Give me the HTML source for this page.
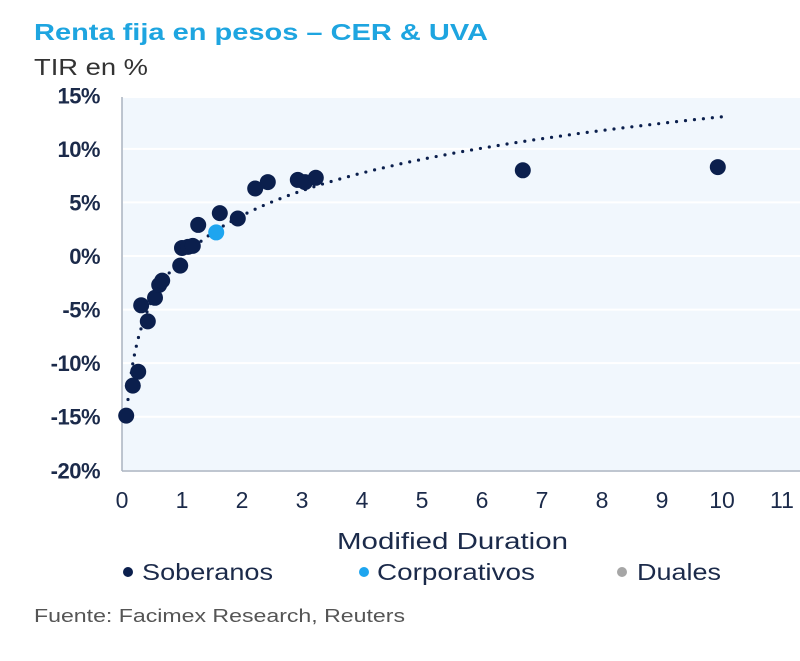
<!DOCTYPE html>
<html><head><meta charset="utf-8"><style>
body{margin:0;background:#fff;width:800px;height:656px;overflow:hidden;font-family:"Liberation Sans",sans-serif}
</style></head><body>
<svg width="800" height="656" viewBox="0 0 800 656">
<text x="34" y="40" font-size="23" font-weight="bold" fill="#1ea5e0" textLength="454" lengthAdjust="spacingAndGlyphs">Renta fija en pesos – CER &amp; UVA</text>
<text x="34" y="75" font-size="23" fill="#333" textLength="114" lengthAdjust="spacingAndGlyphs">TIR en %</text>
<rect x="122" y="98" width="678" height="372" fill="#f1f7fd"/>
<g id="grid"></g>
<line x1="122" y1="97" x2="122" y2="471" stroke="#aab4c0" stroke-width="1.5"/>
<line x1="122" y1="471" x2="800" y2="471" stroke="#aab4c0" stroke-width="1.5"/>
<g id="yt"></g><g id="xt"></g><g id="trend"></g><g id="pts"></g>
<text x="337" y="549" font-size="23" fill="#1b2a4a" textLength="231" lengthAdjust="spacingAndGlyphs">Modified Duration</text>
<g>
<circle cx="128" cy="572" r="5" fill="#0b1f4d"/>
<text x="142" y="580" font-size="23" fill="#1b2a4a" textLength="131" lengthAdjust="spacingAndGlyphs">Soberanos</text>
<circle cx="364" cy="572" r="5" fill="#1ea5ef"/>
<text x="377" y="580" font-size="23" fill="#1b2a4a" textLength="158" lengthAdjust="spacingAndGlyphs">Corporativos</text>
<circle cx="622" cy="572" r="5" fill="#a6a6a6"/>
<text x="637" y="580" font-size="23" fill="#1b2a4a" textLength="84" lengthAdjust="spacingAndGlyphs">Duales</text>
</g>
<text x="34" y="622" font-size="18" fill="#555" textLength="371" lengthAdjust="spacingAndGlyphs">Fuente: Facimex Research, Reuters</text>
</svg>
<script>
const yTicks=[15,10,5,0,-5,-10,-15,-20];
const xTicks=[0,1,2,3,4,5,6,7,8,9,10,11];
const sobX=[0.07,0.18,0.27,0.32,0.43,0.55,0.62,0.67,0.97,1.0,1.1,1.18,1.27,1.63,1.93,2.22,2.43,2.93,3.05,3.23,6.68,9.93];
const sobY=[-14.9,-12.1,-10.8,-4.6,-6.1,-3.9,-2.7,-2.3,-0.9,0.75,0.85,0.95,2.9,4.0,3.5,6.3,6.9,7.1,6.9,7.3,8.0,8.3];
const corpX=[1.57];
const corpY=[2.2];
const trendA=-0.2, trendB=5.73;
const NS="http://www.w3.org/2000/svg";
const X=v=>122+v*60, Y=v=>256-v*10.714;
function mk(t,a,p){const e=document.createElementNS(NS,t);for(const k in a)e.setAttribute(k,a[k]);document.getElementById(p).appendChild(e);return e;}
yTicks.forEach(v=>{
  if(v>-20&&v<15){const g=mk('line',{x1:123,x2:800,y1:Y(v),y2:Y(v),stroke:'#ffffff','stroke-width':2},'grid');
  
  }
  const t=mk('text',{x:100,y:Y(v)+8,'font-size':22,fill:'#1b2a4a','text-anchor':'end','font-weight':'bold','letter-spacing':'-0.5'},'yt');t.textContent=v+'%';
  
  
});
xTicks.forEach(v=>{
  const t=mk('text',{x:X(v),y:508,'font-size':23,fill:'#1b2a4a','text-anchor':'middle'},'xt');t.textContent=v;
  
  
});
let d='';
for(let i=0;i<=200;i++){const x=0.1*Math.pow(100,i/200);d+=(i?'L':'M')+X(x).toFixed(1)+' '+Y(trendA+trendB*Math.log(x)).toFixed(1);}
const tl=mk('path',{d:d,fill:'none',stroke:'#0b1f4d','stroke-width':3.2,'stroke-linecap':'round','stroke-dasharray':'0 9'},'trend');


sobX.forEach((x,i)=>{const c=mk('circle',{cx:X(x),cy:Y(sobY[i]),r:8,fill:'#0b1f4d'},'pts');
  
  });
corpX.forEach((x,i)=>{const c=mk('circle',{cx:X(x),cy:Y(corpY[i]),r:8,fill:'#1ea5ef'},'pts');
  
  });
</script>
</body></html>
